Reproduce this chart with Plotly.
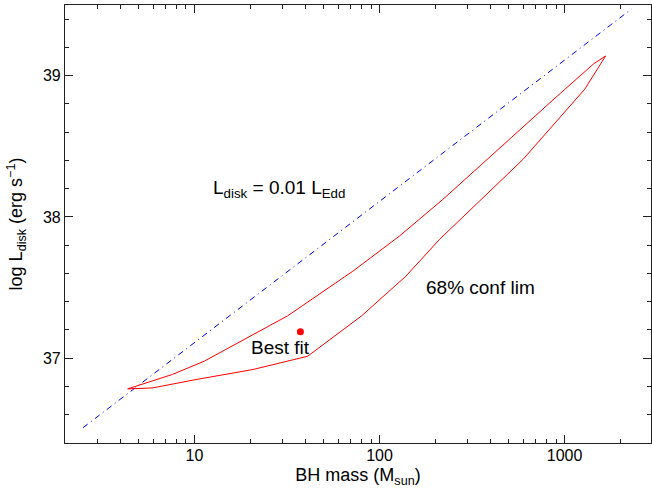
import numpy as np
import plotly.graph_objects as go

# 68% confidence contour: upper and lower branches (BH mass in M_sun, log L_disk)
upper_mass = [4.36, 7.6, 11.3, 31.9, 71.8, 128, 220, 385, 515, 912, 1440, 1666]
upper_logl = [36.783, 36.885, 36.979, 37.30, 37.616, 37.864, 38.124, 38.407, 38.561, 38.855, 39.085, 39.139]
lower_mass = [4.36, 5.95, 10.2, 20.7, 40.9, 79.6, 139, 211, 333, 596, 1283, 1666]
lower_logl = [36.783, 36.79, 36.849, 36.92, 37.014, 37.297, 37.581, 37.841, 38.089, 38.407, 38.903, 39.139]

# Best-fit point
best_mass = [37.4]
best_logl = [37.187]

# L_disk = 0.01 L_Edd reference line
edd_mass = [2.5, 2300]
edd_logl = [36.11 + np.log10(m) for m in edd_mass]

x_tickvals = [10, 100, 1000]
x_ticktext = ["10", "100", "1000"]
y_tickvals = [37, 38, 39]
y_ticktext = ["37", "38", "39"]

x_minor = [m * d for d in (1, 10, 100, 1000) for m in range(2, 10) if 2 <= m * d <= 2930]
y_minor = [round(36.4 + 0.2 * i, 1) for i in range(16)]

contour_mass = upper_mass + lower_mass[::-1]
contour_logl = upper_logl + lower_logl[::-1]

fig = go.Figure()
fig.add_trace(go.Scatter(
    x=edd_mass, y=edd_logl, mode="lines",
    line=dict(color="#0000ff", width=1, dash="6px,4px,1px,4px"),
    hoverinfo="skip", showlegend=False,
))
fig.add_trace(go.Scatter(
    x=contour_mass, y=contour_logl, mode="lines",
    line=dict(color="#ff0000", width=1),
    showlegend=False,
))
fig.add_trace(go.Scatter(
    x=best_mass, y=best_logl, mode="markers",
    marker=dict(color="#ff0000", size=7),
    showlegend=False,
))

font_family = "Liberation Sans, Arial, sans-serif"
label_font = dict(family=font_family, size=19, color="black")

fig.add_annotation(x=np.log10(28.8), y=38.20, text="L<sub>disk</sub> = 0.01 L<sub>Edd</sub>",
                   showarrow=False, font=label_font, xanchor="center", yanchor="middle")
fig.add_annotation(x=np.log10(350.7), y=37.504, text="68% conf lim",
                   showarrow=False, font=label_font, xanchor="center", yanchor="middle")
fig.add_annotation(x=np.log10(29.3), y=37.074, text="Best fit",
                   showarrow=False, font=label_font, xanchor="center", yanchor="middle")

axis_common = dict(
    showgrid=False, zeroline=False, showline=True, linecolor="#222", linewidth=1.2,
    mirror="allticks", ticks="inside", ticklen=8, tickwidth=1, tickcolor="#222",
    tickfont=dict(family=font_family, size=16, color="black"),
)

fig.update_xaxes(
    type="log", range=[np.log10(2), np.log10(2930)],
    tickmode="array", tickvals=x_tickvals, ticktext=x_ticktext,
    ticklabelstandoff=-2,
    minor=dict(ticks="inside", ticklen=4, tickwidth=1, tickcolor="#222",
               tickmode="array", tickvals=x_minor, showgrid=False),
    title=dict(text="BH mass (M<sub>sun</sub>)", font=dict(family=font_family, size=18, color="black"),
               standoff=5),
    **axis_common,
)
fig.update_yaxes(
    range=[36.4, 39.5],
    tickmode="array", tickvals=y_tickvals, ticktext=y_ticktext,
    minor=dict(ticks="inside", ticklen=4, tickwidth=1, tickcolor="#222",
               tickmode="array", tickvals=y_minor, showgrid=False),
    title=dict(text="log L<sub>disk</sub> (erg s<sup>−1</sup>)",
               font=dict(family=font_family, size=18, color="black"), standoff=15),
    **axis_common,
)

fig.update_layout(
    width=652, height=494,
    margin=dict(l=65, r=1, t=5, b=51, pad=0),
    plot_bgcolor="white", paper_bgcolor="white",
)

fig.write_html("out.html")
